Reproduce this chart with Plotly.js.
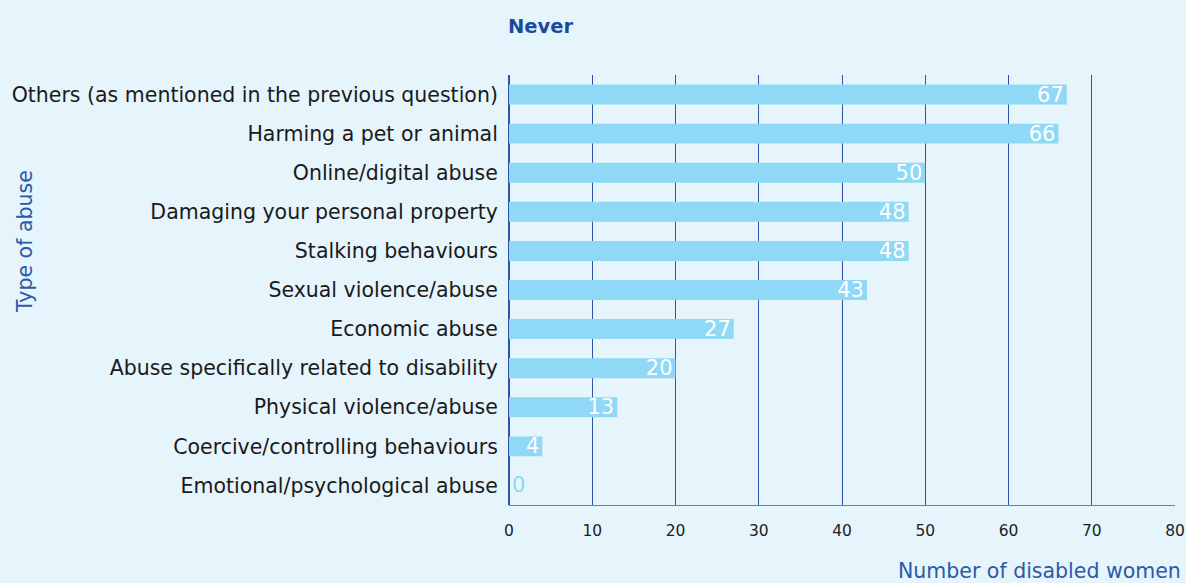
<!DOCTYPE html>
<html>
<head>
<meta charset="utf-8">
<script src="https://cdn.plot.ly/plotly-3.0.1.min.js"></script>
<style>
html,body{margin:0;padding:0;background:#e6f4fc;}
#chart{width:1186px;height:583px;}
</style>
</head>
<body>
<div id="chart"></div>
<script>
const categories = [
  "Others (as mentioned in the previous question)",
  "Harming a pet or animal",
  "Online/digital abuse",
  "Damaging your personal property",
  "Stalking behaviours",
  "Sexual violence/abuse",
  "Economic abuse",
  "Abuse specifically related to disability",
  "Physical violence/abuse",
  "Coercive/controlling behaviours",
  "Emotional/psychological abuse"
];
const values = [67, 66, 50, 48, 48, 43, 27, 20, 13, 4, 0];
const xTicks = [0, 10, 20, 30, 40, 50, 60, 70, 80];

const barColor = "#8fd8f6";
const fontFam = "DejaVu Sans, sans-serif";

const trace = {
  type: "bar",
  orientation: "h",
  y: categories,
  x: values,
  marker: {color: barColor},
  text: values.map(String),
  textposition: values.map(v => v > 0 ? "inside" : "outside"),
  insidetextanchor: "end",
  textangle: 0,
  constraintext: "none",
  textfont: {family: fontFam, size: 21, color: values.map(v => v > 0 ? "#ffffff" : barColor)},
  cliponaxis: false,
  hoverinfo: "none"
};

const layout = {
  width: 1186, height: 583,
  paper_bgcolor: "#e6f4fc",
  plot_bgcolor: "#e6f4fc",
  margin: {l: 509, r: 11, t: 75, b: 78},
  bargap: 0.49,
  showlegend: false,
  font: {family: fontFam, color: "#222222"},
  xaxis: {
    range: [0, 80],
    tickvals: xTicks,
    ticktext: xTicks.map(String),
    tickfont: {size: 15.5, color: "#222222"},
    showgrid: true,
    gridcolor: "#2a55a8",
    gridwidth: 1,
    zeroline: true,
    zerolinecolor: "#2a55a8",
    zerolinewidth: 1.5,
    showline: true,
    linecolor: "#5a82c4",
    linewidth: 1,
    ticks: "outside",
    ticklen: 11,
    tickcolor: "rgba(0,0,0,0)",
    fixedrange: true
  },
  yaxis: {
    autorange: "reversed",
    tickfont: {size: 20.5, color: "#1a1a1a"},
    ticks: "outside",
    ticklen: 6,
    tickcolor: "rgba(0,0,0,0)",
    showgrid: false,
    fixedrange: true
  },
  annotations: [
    {text: "<b>Never</b>", xref: "paper", yref: "paper", x: (540-509)/666, y: 1 + (75-27)/430,
     xanchor: "center", yanchor: "middle", showarrow: false,
     font: {family: fontFam, size: 19.5, color: "#1b4a9c"}},
    {text: "Number of disabled women", xref: "paper", yref: "paper", x: (1183-509)/666, y: -(571-505)/430,
     xanchor: "right", yanchor: "middle", showarrow: false,
     font: {family: fontFam, size: 20.5, color: "#2a5aa8"}},
    {text: "Type of abuse", xref: "paper", yref: "paper", x: -(509-25)/666, y: (505-241)/430,
     xanchor: "center", yanchor: "middle", textangle: -90, showarrow: false,
     font: {family: fontFam, size: 20.5, color: "#2a5aa8"}}
  ]
};

Plotly.newPlot("chart", [trace], layout, {displayModeBar: false, staticPlot: true});
</script>
</body>
</html>
